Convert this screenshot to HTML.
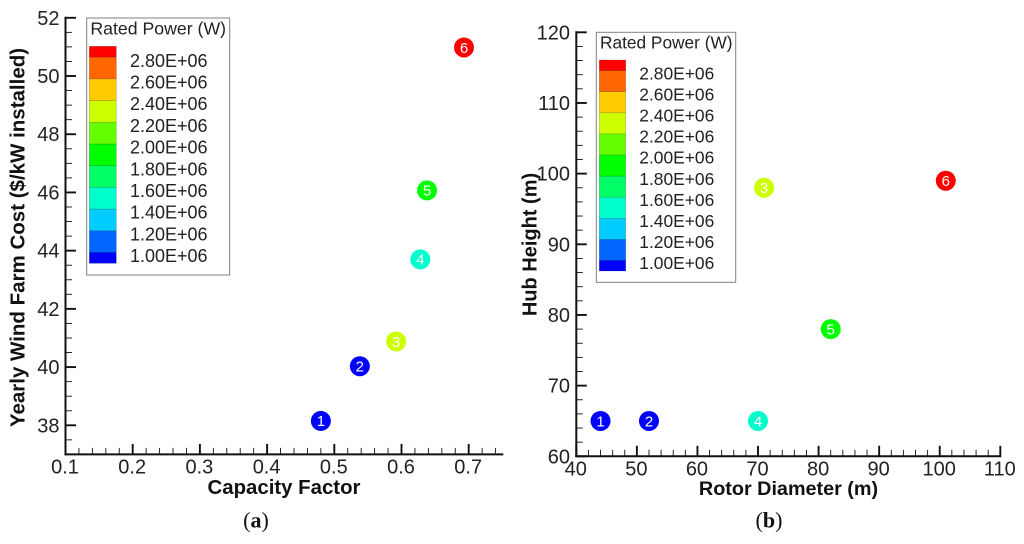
<!DOCTYPE html>
<html lang="en">
<head>
<meta charset="utf-8">
<title>Wind farm cost and turbine design charts</title>
<style>
  html, body { margin: 0; padding: 0; background: #fff; }
  svg { display: block; font-family: "Liberation Sans", sans-serif; }
  .axis-title { font-weight: bold; font-size: 20px; fill: #111; }
  .caption { font-family: "Liberation Serif", serif; font-size: 22px; fill: #111; }
</style>
</head>
<body>
<svg id="figure" width="1024" height="544" viewBox="0 0 1024 544" xmlns="http://www.w3.org/2000/svg">
  <rect width="1024" height="544" fill="#fff"/>
  <g id="panel-a"></g>
  <g id="panel-b"></g>
  <text class="axis-title" text-anchor="middle" font-size="20.5" style="font-size:20.5px" transform="translate(24.5 237.5) rotate(-90)">Yearly Wind Farm Cost ($/kW installed)</text>
  <text class="axis-title" text-anchor="middle" style="font-size:20.4px" x="284" y="494">Capacity Factor</text>
  <text class="axis-title" text-anchor="middle" transform="translate(536.5 244.5) rotate(-90)">Hub Height (m)</text>
  <text class="axis-title" text-anchor="middle" style="font-size:19.8px" x="788.5" y="495">Rotor Diameter (m)</text>
  <text class="caption" text-anchor="middle" x="256" y="527.5">(<tspan font-weight="bold">a</tspan>)</text>
  <text class="caption" text-anchor="middle" x="769" y="527.5">(<tspan font-weight="bold">b</tspan>)</text>
</svg>
<script>
// Data shared by both panels
const turbineIds = ["1", "2", "3", "4", "5", "6"];
const ratedPower = [1.0e6, 1.0e6, 2.4e6, 1.6e6, 2.0e6, 3.0e6];

// Panel (a)
const capacityFactor = [0.48, 0.538, 0.592, 0.628, 0.638, 0.693];
const farmCost = [38.15, 40.03, 40.88, 43.7, 46.07, 50.98];
const capacityTicks = ["0.1", "0.2", "0.3", "0.4", "0.5", "0.6", "0.7"];
const costTicks = ["38", "40", "42", "44", "46", "48", "50", "52"];

// Panel (b)
const rotorDiameter = [44, 52, 71, 70, 82, 101];
const hubHeight = [65, 65, 98, 65, 78, 99];
const diameterTicks = ["40", "50", "60", "70", "80", "90", "100", "110"];
const heightTicks = ["60", "70", "80", "90", "100", "110", "120"];

// Colour legend
const legendLevels = [1.0e6, 1.2e6, 1.4e6, 1.6e6, 1.8e6, 2.0e6, 2.2e6, 2.4e6, 2.6e6, 2.8e6, 3.0e6];
const legendColors = ["#0000ff", "#0066ff", "#00ccff", "#00ffcc", "#00ff66", "#00ff00", "#66ff00", "#ccff00", "#ffcc00", "#ff6600", "#ff0000"];
const legendLabels = ["1.00E+06", "1.20E+06", "1.40E+06", "1.60E+06", "1.80E+06", "2.00E+06", "2.20E+06", "2.40E+06", "2.60E+06", "2.80E+06"];

const SVG_NS = "http://www.w3.org/2000/svg";
const INK = "#111";

function makeEl(tag, parent, props) {
  const el = document.createElementNS(SVG_NS, tag);
  for (const key in props) el.setAttribute(key, props[key]);
  parent.appendChild(el);
  return el;
}

function linear(d0, d1, r0, r1) {
  return function (v) { return r0 + (v - d0) * (r1 - r0) / (d1 - d0); };
}

function colorFor(power) {
  let best = 0;
  legendLevels.forEach(function (level, i) {
    if (Math.abs(level - power) < Math.abs(legendLevels[best] - power)) best = i;
  });
  return legendColors[best];
}

function drawPanel(root, cfg) {
  const x = linear(cfg.xRef[0], cfg.xRef[1], cfg.xPix[0], cfg.xPix[1]);
  const y = linear(cfg.yRef[0], cfg.yRef[1], cfg.yPix[0], cfg.yPix[1]);
  const xAxisY = y(cfg.yMin);
  const yAxisX = x(cfg.xMin);

  // Minor ticks
  const nxMinor = Math.floor((cfg.xMax - cfg.xMin) / cfg.xMinor + 1e-6);
  for (let i = 1; i <= nxMinor; i++) {
    const px = x(cfg.xMin + i * cfg.xMinor);
    const t = makeEl("line", root, { x1: px, x2: px, y1: xAxisY, y2: xAxisY - 6.5, stroke: INK, "stroke-width": 0.9 });
    
    
  }
  const nyMinor = Math.floor((cfg.yMax - cfg.yMin) / cfg.yMinor + 1e-6);
  for (let i = 1; i <= nyMinor; i++) {
    const py = y(cfg.yMin + i * cfg.yMinor);
    const t = makeEl("line", root, { x1: yAxisX, x2: yAxisX + 6.5, y1: py, y2: py, stroke: INK, "stroke-width": 0.9 });
    
    
  }

  // Major ticks and tick labels
  cfg.xTicks.forEach(function (label) {
    const px = x(parseFloat(label));
    const t = makeEl("line", root, { x1: px, x2: px, y1: xAxisY, y2: xAxisY - 10.5, stroke: INK, "stroke-width": 1.9 });
    
    
    const txt = makeEl("text", root, { x: px - 0.5, y: cfg.xLabelY, "text-anchor": "middle", "font-size": cfg.tickFont, fill: "#222" });
    
    
    txt.textContent = label;
  });
  cfg.yTicks.forEach(function (label) {
    const py = y(parseFloat(label));
    const t = makeEl("line", root, { x1: yAxisX, x2: yAxisX + 10.5, y1: py, y2: py, stroke: INK, "stroke-width": 1.9 });
    
    
    const txt = makeEl("text", root, { x: cfg.yLabelX, y: py + 7, "text-anchor": "end", "font-size": cfg.tickFont, fill: "#222" });
    
    
    txt.textContent = label;
  });

  // Axis lines
  const xLine = makeEl("line", root, { x1: yAxisX - 1, x2: x(cfg.xMax) + 1, y1: xAxisY, y2: xAxisY, stroke: INK, "stroke-width": 2 });
  
  
  const yLine = makeEl("line", root, { x1: yAxisX, x2: yAxisX, y1: y(cfg.yMax) - 1, y2: xAxisY + 1, stroke: INK, "stroke-width": 2 });
  
  

  // Legend
  const lg = cfg.legend;
  const legend = makeEl("g", root, {});
  
  
  const frame = makeEl("rect", legend, { x: lg.x, y: lg.y, width: lg.w, height: lg.h, fill: "#fff", stroke: "#808080", "stroke-width": 1 });
  
  
  const title = makeEl("text", legend, { x: lg.x + 3.7, y: lg.y + 16.3, "font-size": lg.titleFont, fill: "#222" });
  
  
  title.textContent = "Rated Power (W)";

  // Colour bands: the first and last levels get half a band, as contour levels do
  const levelY = linear(legendLevels[0], legendLevels[legendLevels.length - 1], lg.barBottom, lg.barTop);
  const halfStep = (legendLevels[1] - legendLevels[0]) / 2;
  legendLevels.forEach(function (level, i) {
    const top = levelY(Math.min(level + halfStep, legendLevels[legendLevels.length - 1]));
    const bottom = levelY(Math.max(level - halfStep, legendLevels[0]));
    const band = makeEl("rect", legend, { x: lg.barX, y: top, width: lg.barW, height: bottom - top, fill: legendColors[i], stroke: "#000", "stroke-opacity": 0.25, "stroke-width": 0.6 });
    
    
  });
  legendLabels.forEach(function (label, i) {
    const txt = makeEl("text", legend, { x: lg.labelX, y: levelY(legendLevels[i]) + lg.labelDy, "font-size": lg.font, fill: "#222" });
    
    
    txt.textContent = label;
  });

  // Points
  cfg.xValues.forEach(function (xv, i) {
    const g = makeEl("g", root, {});
    
    
    makeEl("circle", g, { cx: x(xv), cy: y(cfg.yValues[i]), r: 10, fill: colorFor(ratedPower[i]) });
    const txt = makeEl("text", g, { x: x(xv), y: y(cfg.yValues[i]) + 5.3, "text-anchor": "middle", "font-size": 15, fill: "#fff" });
    
    
    txt.textContent = turbineIds[i];
  });
}

drawPanel(document.getElementById("panel-a"), {
  xValues: capacityFactor, yValues: farmCost,
  xTicks: capacityTicks, yTicks: costTicks,
  xRef: [0.1, 0.7], xPix: [65.5, 468.7],
  yRef: [38, 52], yPix: [425.3, 17.8],
  xMin: 0.1, xMax: 0.75, xMinor: 0.02,
  yMin: 37, yMax: 52, yMinor: 0.5,
  tickFont: 20, xLabelY: 473.5, yLabelX: 59.5,
  legend: { x: 86.7, y: 18, w: 143, h: 257, font: 18, titleFont: 17.7, barX: 89.3, barW: 27, barTop: 46.3, barBottom: 263.3, labelX: 130, labelDy: -1.2 }
});

drawPanel(document.getElementById("panel-b"), {
  xValues: rotorDiameter, yValues: hubHeight,
  xTicks: diameterTicks, yTicks: heightTicks,
  xRef: [40, 110], xPix: [576.3, 1000.3],
  yRef: [60, 120], yPix: [456.3, 32.3],
  xMin: 40, xMax: 110, xMinor: 2,
  yMin: 60, yMax: 120, yMinor: 2,
  tickFont: 20, xLabelY: 475.5, yLabelX: 570,
  legend: { x: 596.3, y: 32.3, w: 139.4, h: 250, font: 17.4, titleFont: 17.3, barX: 599.3, barW: 26.4, barTop: 60, barBottom: 271, labelX: 639.3, labelDy: -1.8 }
});
</script>
</body>
</html>
